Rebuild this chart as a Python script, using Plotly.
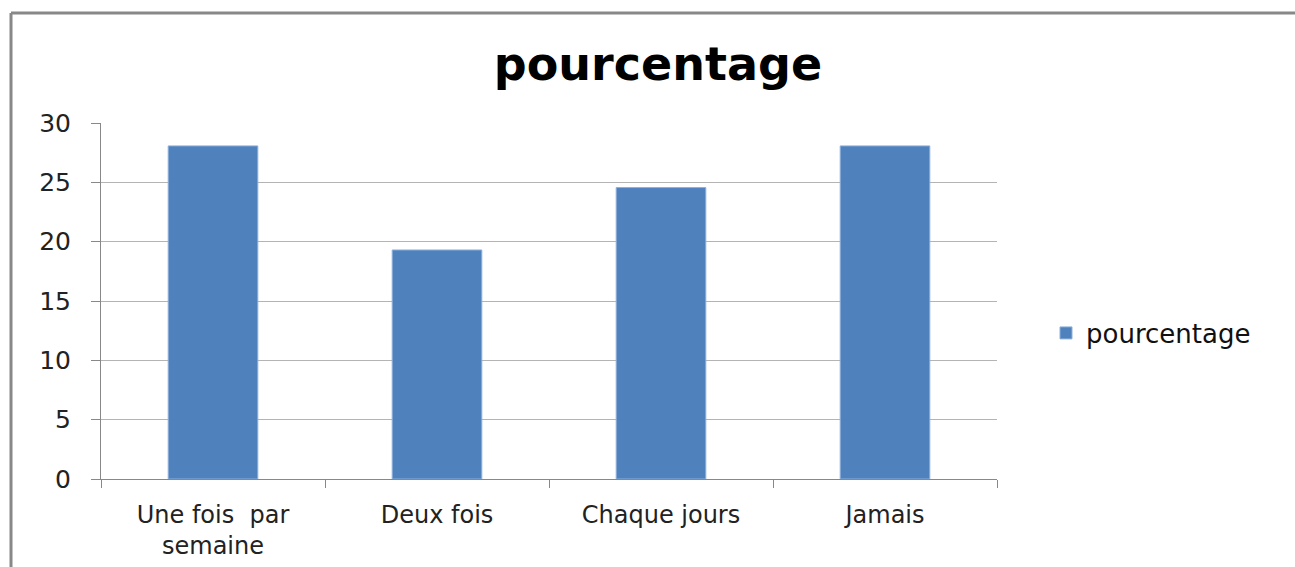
import plotly.graph_objects as go

categories = ["Une fois  par<br>semaine", "Deux fois", "Chaque jours", "Jamais"]
values = [28.07, 19.3, 24.56, 28.07]
series_name = "pourcentage"
y_ticks = [0, 5, 10, 15, 20, 25, 30]

W, H = 1295, 567
L, R, T, B = 101, 298, 123, 88
pw, ph = W - L - R, H - T - B

def px_x(p):
    return (p - L) / pw

def px_y(p):
    return (H - B - p) / ph

fig = go.Figure()
fig.add_trace(go.Bar(
    x=categories, y=values, name=series_name,
    marker=dict(color="#4F81BD", line=dict(color="#8EB0DA", width=1)),
    showlegend=True,
))

font = "DejaVu Sans, Verdana, sans-serif"
fig.update_layout(
    width=W, height=H,
    margin=dict(l=L, r=R, t=T, b=B, autoexpand=False),
    paper_bgcolor="white", plot_bgcolor="white",
    bargap=0.6,
    title=dict(text="<b>pourcentage</b>", x=px_x(658), xref="paper", xanchor="center",
               y=1 - 64 / H, yanchor="middle",
               font=dict(family=font, size=46, color="black")),
    font=dict(family=font, color="#222"),
    showlegend=True,
    legend=dict(x=px_x(1046), y=px_y(333), xref="paper", yref="paper",
                xanchor="left", yanchor="middle",
                font=dict(family=font, size=26, color="#111"),
                itemwidth=30, bgcolor="rgba(0,0,0,0)"),
    xaxis=dict(
        type="category", tickson="boundaries", ticks="outside", ticklen=8,
        tickcolor="#888", showline=True, linecolor="#888", linewidth=1,
        tickfont=dict(family=font, size=24, color="#222"),
        showgrid=False, range=[-0.5, 3.5], automargin=False,
        ticklabelstandoff=14,
    ),
    yaxis=dict(
        range=[0, 30], tickvals=y_ticks, ticks="outside", ticklen=9,
        tickcolor="#888", showline=True, linecolor="#888", linewidth=1,
        gridcolor="#b4b4b4", gridwidth=1.2, zeroline=False, automargin=False,
        tickfont=dict(family=font, size=25, color="#222"),
        ticklabelstandoff=15,
    ),
    shapes=[
        dict(type="line", xref="paper", yref="paper",
             x0=px_x(11), x1=px_x(1300), y0=px_y(13), y1=px_y(13),
             line=dict(color="#888", width=3)),
        dict(type="line", xref="paper", yref="paper",
             x0=px_x(11), x1=px_x(11), y0=px_y(13), y1=px_y(570),
             line=dict(color="#888", width=3)),
    ],
)

fig.write_html("out.html", config={"displayModeBar": False},
               post_script="document.body.style.margin='0';document.body.style.overflow='hidden';")
